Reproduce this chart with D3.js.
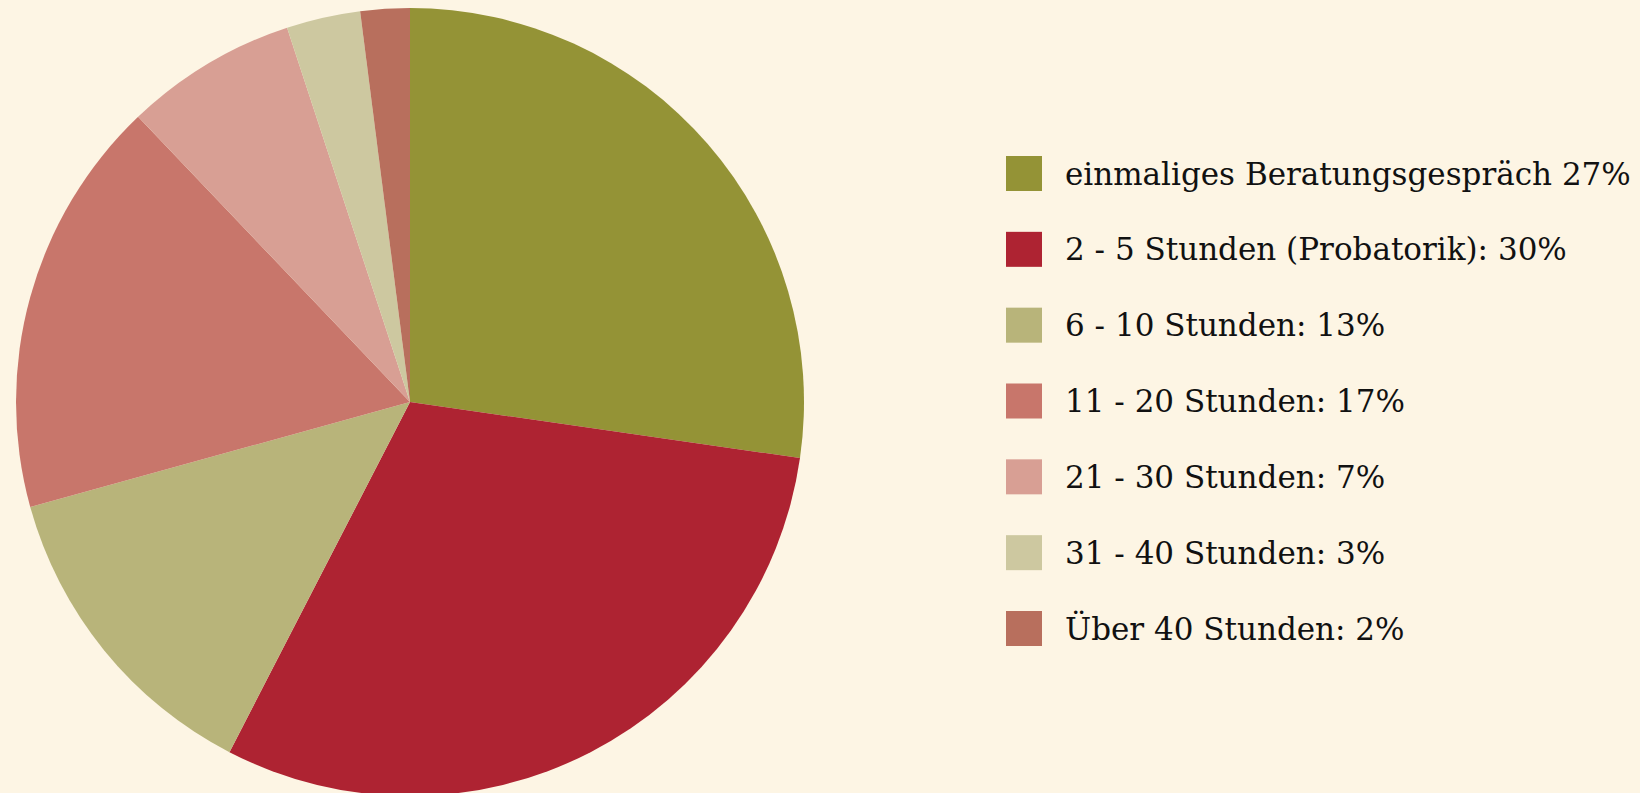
<!DOCTYPE html>
<html><head><meta charset="utf-8">
<script src="https://cdn.jsdelivr.net/npm/d3@7"></script>
<style>html,body{margin:0;padding:0;background:#fdf5e4;}svg{display:block;}</style>
</head><body>
<script>
const categories = ["einmaliges Beratungsgespräch 27%","2 - 5 Stunden (Probatorik): 30%","6 - 10 Stunden: 13%","11 - 20 Stunden: 17%","21 - 30 Stunden: 7%","31 - 40 Stunden: 3%","Über 40 Stunden: 2%"];
const values = [27,30,13,17,7,3,2];
const colors = ["#949336","#ae2332","#b8b47a","#c8766b","#d89f94","#cdc8a0","#b86f5d"];

const W=1640,H=793;
const svg=d3.select("body").append("svg").attr("width",W).attr("height",H);
svg.append("rect").attr("width",W).attr("height",H).attr("fill","#fdf5e4");

const data=categories.map((c,i)=>({c,v:values[i],col:colors[i]}));
const pie=d3.pie().sort(null).value(d=>d.v);
const arc=d3.arc().innerRadius(0).outerRadius(394);
const g=svg.append("g").attr("transform","translate(410,402)");
g.selectAll("path").data(pie(data)).join("path").attr("d",arc).attr("fill",d=>d.data.col);

const y=d3.scalePoint().domain(categories).range([173.5,628.5]);
const lg=svg.append("g");
const row=lg.selectAll("g").data(data).join("g").attr("transform",d=>`translate(0,${y(d.c)})`);
row.append("rect").attr("x",1006).attr("y",-17.5).attr("width",36).attr("height",35).attr("fill",d=>d.col);
row.append("text").attr("x",1065).attr("y",11).attr("font-family","'DejaVu Serif'").attr("font-size",31).attr("fill","#111").text(d=>d.c);
</script>
</body></html>
